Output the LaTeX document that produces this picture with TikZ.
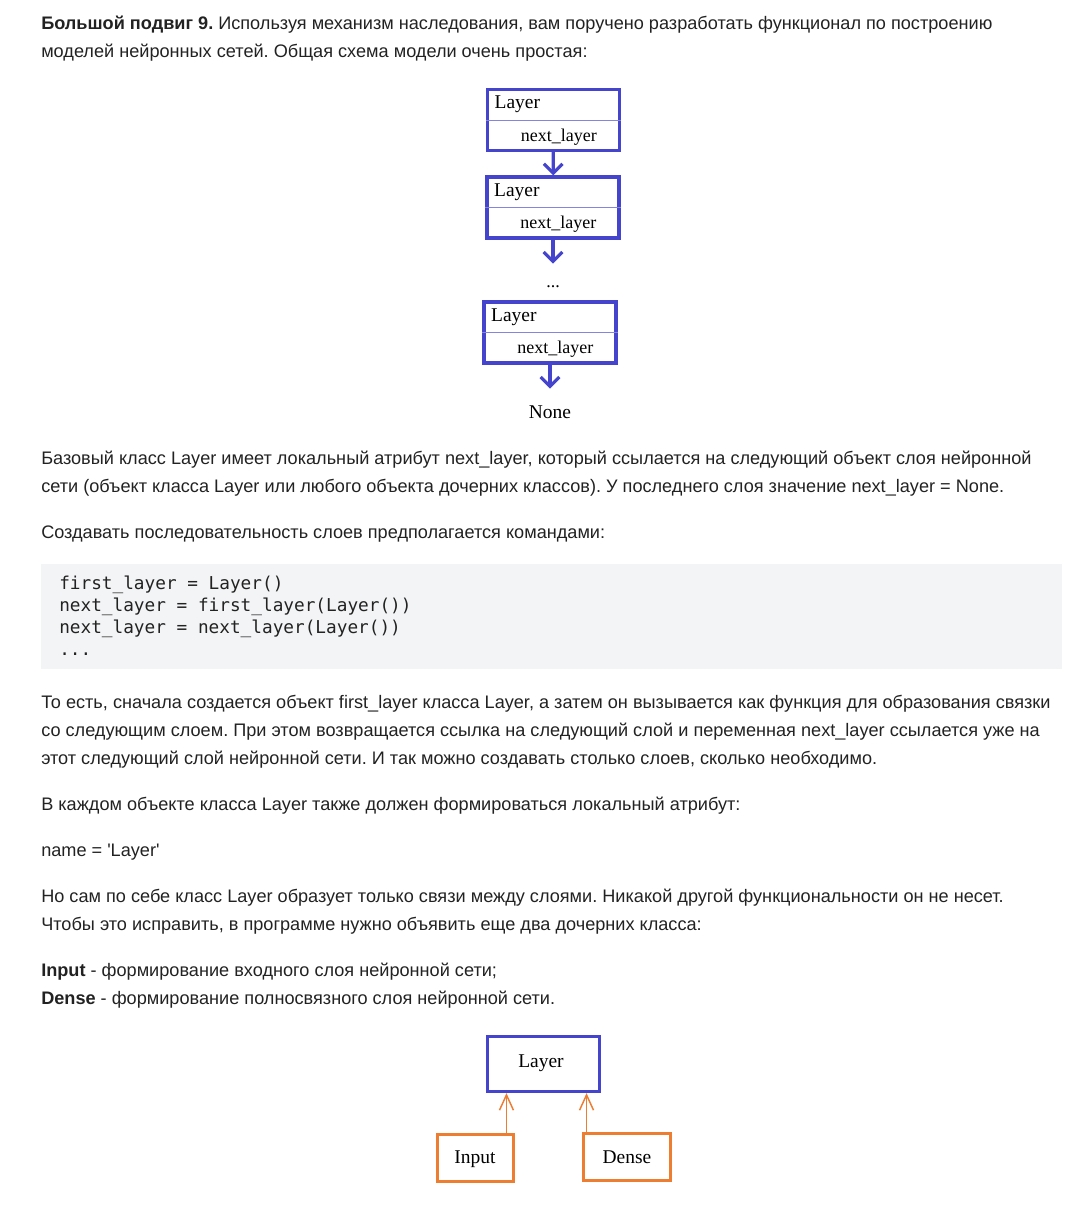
\documentclass[tikz,border=0pt]{standalone}
\usepackage{fontspec}
\setmainfont{Liberation Sans}
\setmonofont{DejaVu Sans Mono}
\newfontfamily\diagfont{Liberation Serif}
\usepackage{tikz}
\usetikzlibrary{arrows.meta}
\usetikzlibrary{positioning}
\usepackage{color}
\definecolor{layerblue}{RGB}{68, 68, 204}
\definecolor{childorange}{RGB}{237, 125, 49}
\definecolor{codegray}{RGB}{243, 244, 246}
\definecolor{inkgray}{RGB}{34, 34, 34}
\frenchspacing

\tikzset{
    body/.style={anchor=base west, inner sep=0pt, text=inkgray,
                 font=\fontsize{13.6}{16}\selectfont},
    code/.style={anchor=base west, inner sep=0pt, text=inkgray,
                 font=\ttfamily\fontsize{13.3}{16}\selectfont},
    diag/.style={inner sep=0pt, text=black, font=\diagfont\fontsize{14.6}{17}\selectfont},
    attr/.style={inner sep=0pt, text=black, font=\diagfont\fontsize{13.5}{16}\selectfont},
    layerbox/.style={draw=layerblue, line width=2.4pt, minimum width=99pt, minimum height=45.75pt},
    basebox/.style={draw=layerblue, line width=2.4pt, minimum width=84pt, minimum height=41.25pt},
    childbox/.style={draw=childorange, line width=2.25pt, minimum height=35.25pt},
    divider/.style={draw=layerblue!65, line width=0.75pt},
    flow/.style={draw=layerblue, line width=2.4pt, -{Straight Barb[length=7pt,width=14pt]}},
    inherit/.style={draw=childorange, line width=1.1pt, -{Straight Barb[length=11.5pt,width=10.5pt]}}
}

\begin{document}
\begin{tikzpicture}[x=0.75pt, y=-0.75pt]
            \useasboundingbox (0,0) rectangle (1088,1208);
            % Task statement
            \node[body] (t1) at (41, 29.5) {\textbf{Большой подвиг 9.} Используя механизм наследования, вам поручено разработать функционал по построению};
            \node[body] (t2) at (41, 57.5) {моделей нейронных сетей. Общая схема модели очень простая:};
            % Chain of layers
            \foreach \i/\x/\y in {1/553.5/120, 2/553/207.5, 3/550/332.5} {
                \node[layerbox] (l\i) at (\x, \y) {};
                \draw[divider] (l\i.west) -- (l\i.east);
                \node[diag, anchor=base west] (l\i name) at ([xshift=6.4pt, yshift=-15.6pt]l\i.north west) {Layer};
                \node[attr, anchor=base]      (l\i next) at ([xshift=4pt, yshift=8.3pt]l\i.south) {next\_layer};
            }
            \coordinate (gap2) at ([yshift=-18pt]l2.south);
            \coordinate (gap3) at ([yshift=-18pt]l3.south);
            \node[attr, anchor=base] (dots) at ([yshift=-35.6pt]l2.south) {...};
            \node[diag, anchor=base] (none) at (550, 418) {None};
            \draw[flow] (l1) -- (l2);
            \draw[flow] (l2) -- (gap2);
            \draw[flow] (l3) -- (gap3);
            % Description
            \node[body] (d1) at (41, 464.5) {Базовый класс Layer имеет локальный атрибут next\_layer, который ссылается на следующий объект слоя нейронной};
            \node[body] (d2) at (41, 492.5) {сети (объект класса Layer или любого объекта дочерних классов). У последнего слоя значение next\_layer = None.};
            \node[body] (d3) at (41, 538.5) {Создавать последовательность слоев предполагается командами:};
            % Code listing
            \fill[codegray] (41, 564) rectangle (1062, 669);
            \node[code] (c1) at (59, 589) {first\_layer = Layer()};
            \node[code] (c2) at (59, 611) {next\_layer = first\_layer(Layer())};
            \node[code] (c3) at (59, 633) {next\_layer = next\_layer(Layer())};
            \node[code] (c4) at (59, 655) {...};
            % Explanation
            \node[body] (e1) at (41, 708.5) {То есть, сначала создается объект first\_layer класса Layer, а затем он вызывается как функция для образования связки};
            \node[body] (e2) at (41, 736.5) {со следующим слоем. При этом возвращается ссылка на следующий слой и переменная next\_layer ссылается уже на};
            \node[body] (e3) at (41, 764.5) {этот следующий слой нейронной сети. И так можно создавать столько слоев, сколько необходимо.};
            \node[body] (e4) at (41, 810.5) {В каждом объекте класса Layer также должен формироваться локальный атрибут:};
            \node[body] (e5) at (41, 856.5) {name = \textquotesingle Layer\textquotesingle};
            \node[body] (e6) at (41, 902.5) {Но сам по себе класс Layer образует только связи между слоями. Никакой другой функциональности он не несет.};
            \node[body] (e7) at (41, 930.5) {Чтобы это исправить, в программе нужно объявить еще два дочерних класса:};
            \node[body] (e8) at (41, 976.5) {\textbf{Input} - формирование входного слоя нейронной сети;};
            \node[body] (e9) at (41, 1004.5) {\textbf{Dense} - формирование полносвязного слоя нейронной сети.};
            % Class hierarchy
            \node[basebox] (base) at (543.5, 1064) {};
            \node[diag] (basename) at (541, 1063.5) {Layer};
            \node[childbox, minimum width=57pt]    (inp) at (475.5, 1158) {};
            \node[childbox, minimum width=65.25pt] (dns) at (627, 1157) {};
            \node[diag] (inpname) at (475, 1159) {Input};
            \node[diag] (dnsname) at (627, 1157) {Dense};
            \coordinate (inpup) at ([xshift=-6.4pt]inp.north east);
            \coordinate (dnsup) at ([xshift=3.4pt]dns.north west);
            \draw[inherit] (inpup) -- (inpup |- base.south);
            \draw[inherit] (dnsup) -- (dnsup |- base.south);
        \end{tikzpicture}
\end{document}
